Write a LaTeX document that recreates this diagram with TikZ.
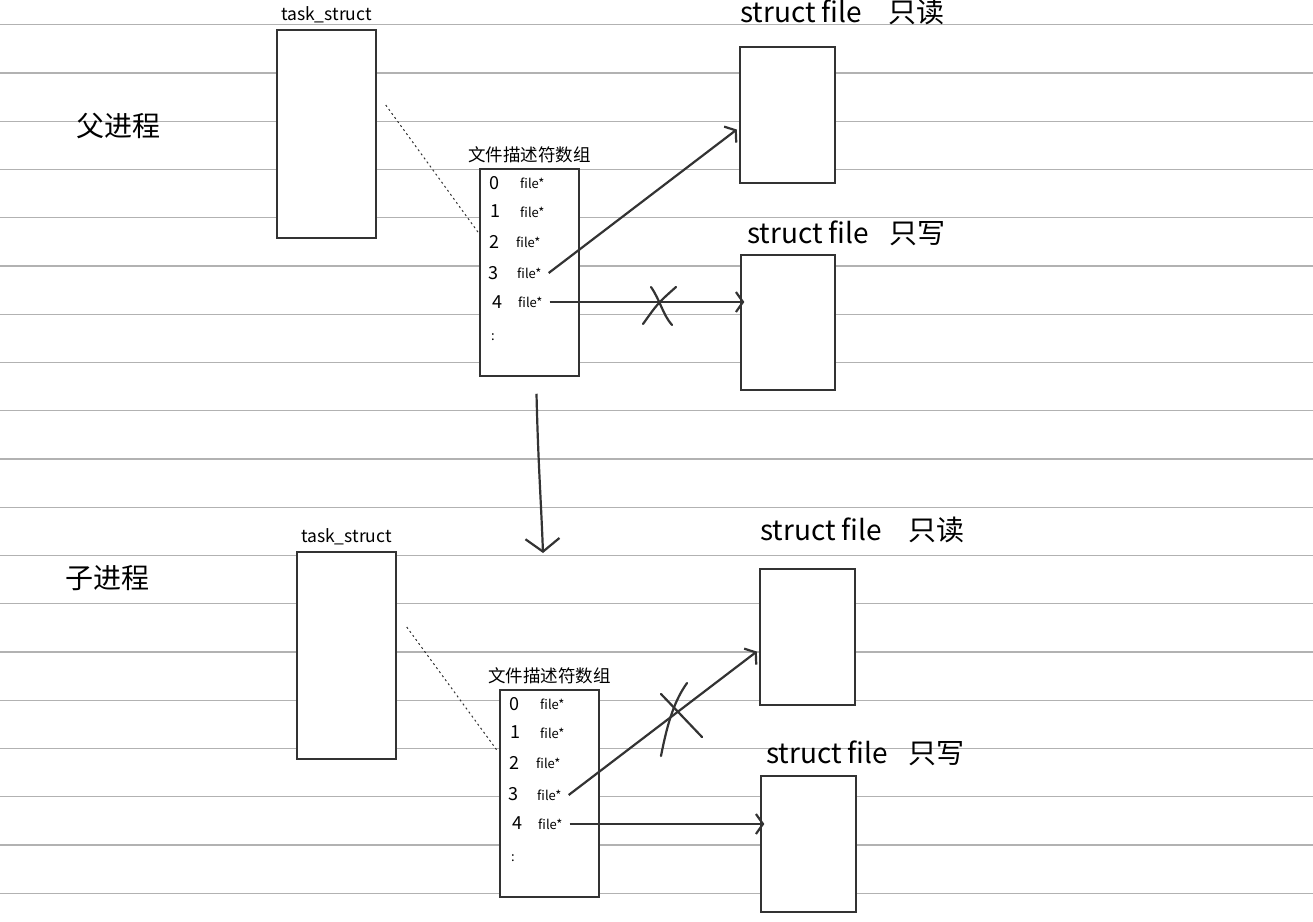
\documentclass[tikz,border=0pt]{standalone}
\usepackage{fontspec}
\setmainfont{Noto Sans CJK SC}
\usetikzlibrary{positioning, arrows.meta}

\begin{document}
\begin{tikzpicture}[
    x=1pt, y=-1pt,
    ruled/.style={
        gray!60,
        line width=1.3pt
    },
    taskbox/.style={
        rectangle,
        draw=black!80,
        fill=white,
        line width=1.5pt,
        minimum width=99pt,
        minimum height=207pt,
        inner sep=0pt
    },
    filebox/.style={
        rectangle,
        draw=black!80,
        fill=white,
        line width=2.4pt,
        minimum width=95pt,
        minimum height=136pt,
        inner sep=0pt
    },
    boxlabel/.style={
        font=\fontsize{17.5}{19}\selectfont,
        inner sep=0pt
    },
    proclabel/.style={
        font=\fontsize{28}{30}\selectfont,
        inner sep=0pt
    },
    filelabel/.style={
        font=\fontsize{28}{30}\selectfont,
        inner sep=0pt,
        anchor=base west
    },
    digit/.style={
        font=\fontsize{18}{20}\selectfont,
        inner sep=0pt
    },
    entry/.style={
        font=\fontsize{13}{15}\selectfont,
        inner sep=0pt,
        anchor=west
    },
    arrow/.style={
        line width=2.2pt,
        black!80,
        shorten >=2.5pt,
        -{Straight Barb[length=7pt, width=20pt]}
    },
    link/.style={
        black!80,
        line width=1pt,
        dash pattern=on 2pt off 3pt
    },
    cross/.style={
        line width=2.2pt,
        black!80,
        line cap=round
    }
]

\fill[white] (0,0) rectangle (1313,921);
\useasboundingbox (0,0) rectangle (1313,921);

% Ruled paper
\foreach \k in {0,...,18}
    \draw[ruled] (0,24.8+48.25*\k) -- (1313,24.8+48.25*\k);

% ---------------- Parent process ----------------
\node[proclabel] (parentname) at (118,126) {父进程};

% Node 1: task_struct
\node[taskbox, minimum height=208pt] (parenttask) at (326.5,134) {};
\node[boxlabel, above=6pt of parenttask] (parenttasklabel) {task\_struct};

% Node 2: fd array
\node[taskbox] (parentfd) at (529.5,272.5) {};
\node[boxlabel, above=5pt of parentfd] (parentfdlabel) {文件描述符数组};

\node[digit] (pd0) at (494,183) {0};
\node[digit] (pd1) at (495,211) {1};
\node[digit] (pd2) at (494,242) {2};
\node[digit] (pd3) at (493,273) {3};
\node[digit] (pd4) at (497,302) {4};
\node[entry] (pf0) at (520,183) {file*};
\node[entry] (pf1) at (520,212) {file*};
\node[entry] (pf2) at (516,242) {file*};
\node[entry] (pf3) at (517,273) {file*};
\node[entry] (pf4) at (518,302) {file*};
\node[entry] (pdots) at (491,337) {:};

% Node 3: struct file (read only)
\node[filebox] (parentro) at (787.5,115) {};
\node[filelabel] (parentrolabel) at (740,22) {struct file\hspace{26pt}只读};

% Node 4: struct file (write only)
\node[filebox, minimum width=94pt, minimum height=135pt] (parentwo) at (788,322.5) {};
\node[filelabel] (parentwolabel) at (747,243) {struct file\hspace{20pt}只写};

% Links
\draw[link] ([shift={(9pt,29pt)}]parenttask.east) -- ([shift={(-1pt,40pt)}]parentfd.west);
\draw[arrow] ([xshift=7pt]pf3.east) -- ([yshift=-13pt]parentro.west);
\draw[arrow] ([xshift=7pt]pf4.east) -- ([xshift=7pt]pf4.east -| parentwo.west);

% closed write end
\draw[cross] (643,324) .. controls (658,303) .. (676,287);
\draw[cross] (651,287) .. controls (660,300) and (663,315) .. (672,325);

% fork
\coordinate (forktip) at (543,553);
\draw[arrow, shorten >=0pt, -{Straight Barb[length=13pt, width=34pt]}] ([shift={(7pt,-17pt)}]parentfd.south)
    .. controls (538,460) and (541,500) .. (forktip);

% ---------------- Child process ----------------
\node[proclabel] (childname) at (107,578) {子进程};

% Node 5: task_struct
\node[taskbox] (childtask) at (346.5,655.5) {};
\node[boxlabel, above=6pt of childtask] (childtasklabel) {task\_struct};

% Node 6: fd array
\node[taskbox] (childfd) at (549.5,793.5) {};
\node[boxlabel, above=5pt of childfd] (childfdlabel) {文件描述符数组};

\node[digit] (cd0) at (514,704) {0};
\node[digit] (cd1) at (515,732) {1};
\node[digit] (cd2) at (514,763) {2};
\node[digit] (cd3) at (513,794) {3};
\node[digit] (cd4) at (517,823) {4};
\node[entry] (cf0) at (540,704) {file*};
\node[entry] (cf1) at (540,733) {file*};
\node[entry] (cf2) at (536,763) {file*};
\node[entry] (cf3) at (537,795) {file*};
\node[entry] (cf4) at (538,824) {file*};
\node[entry] (cdots) at (511,858) {:};

% Node 7: struct file (read only)
\node[filebox] (childro) at (807.5,637) {};
\node[filelabel] (childrolabel) at (760,540) {struct file\hspace{26pt}只读};

% Node 8: struct file (write only)
\node[filebox] (childwo) at (808.5,844) {};
\node[filelabel] (childwolabel) at (766,763) {struct file\hspace{20pt}只写};

% Links
\draw[link] ([shift={(10pt,28.5pt)}]childtask.east) -- ([shift={(-1pt,41.5pt)}]childfd.west);
\draw[arrow] ([xshift=7pt]cf3.east) -- ([yshift=-13pt]childro.west);
\draw[arrow] ([xshift=7pt]cf4.east) -- ([xshift=7pt]cf4.east -| childwo.west);

% closed read end
\draw[cross] (661,756) .. controls (668,720) and (675,700) .. (687,683);
\draw[cross] (661,694) -- (702,737);

\end{tikzpicture}
\end{document}
